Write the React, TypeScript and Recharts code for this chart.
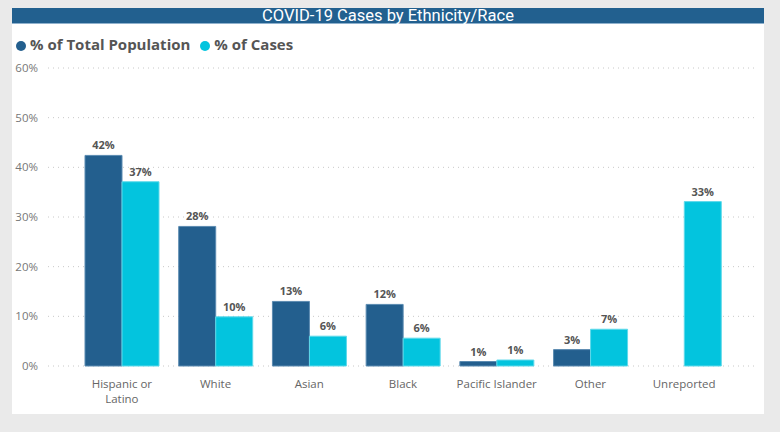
import React from 'react';
import { BarChart, Bar, XAxis, YAxis, CartesianGrid, Legend, LabelList, Text } from 'recharts';

const categories = ['Hispanic or Latino', 'White', 'Asian', 'Black', 'Pacific Islander', 'Other', 'Unreported'];
const populationPct = [42.4, 28.1, 13.0, 12.4, 0.9, 3.3, null];
const casesPct = [37.1, 9.9, 6.0, 5.6, 1.2, 7.4, 33.1];
const yTicks = [0, 10, 20, 30, 40, 50, 60];

const data = categories.map((name, i) => ({
  name,
  population: populationPct[i],
  cases: casesPct[i],
}));

const DARK = '#235f8e';
const LIGHT = '#03c4de';
const FONT = '"Open Sans", "Noto Sans", sans-serif';

function CategoryTick(props: any) {
  const { x, y, payload } = props;
  return (
    <Text
      x={x}
      y={y}
      width={86}
      dy={6}
      textAnchor="middle"
      verticalAnchor="start"
      lineHeight={15}
      style={{ fontSize: '11.5px', fontFamily: FONT }}
      fill="#666"
    >
      {payload.value}
    </Text>
  );
}

const pctLabel = (v: any) => (v === null || v === undefined ? '' : `${Math.round(v)}%`);

export default function App() {
  return (
    <div style={{ position: 'absolute', left: 0, top: 0, width: 780, height: 432, background: '#eaeaea', fontFamily: FONT }}>
      <div style={{ position: 'absolute', left: 12, top: 8, width: 752, height: 406, background: '#fff' }}>
        <div
          style={{
            height: 15,
            background: '#22608f',
            borderBottom: '1px solid #8fb1cd',
            color: '#fff',
            fontSize: 16.5,
            lineHeight: '16px',
            textAlign: 'center',
            fontFamily: 'Roboto, sans-serif',
          }}
        >
          COVID-19 Cases by Ethnicity/Race
        </div>
        <BarChart
          width={752}
          height={390}
          data={data}
          margin={{ top: 44, right: 7, bottom: 18, left: 0 }}
          barCategoryGap={10}
          barGap={0}
        >
          <CartesianGrid vertical={false} stroke="#c8c8c8" strokeDasharray="1 4" />
          <XAxis
            dataKey="name"
            height={30}
            axisLine={false}
            tickLine={false}
            padding={{ left: 27, right: 26 }}
            interval={0}
            tick={<CategoryTick />}
          />
          <YAxis
            width={36}
            domain={[0, 60]}
            ticks={yTicks}
            axisLine={false}
            tickLine={false}
            tickMargin={4}
            tickFormatter={(v) => `${v}%`}
            tick={{ fontSize: 11.5, fill: '#777', fontFamily: FONT }}
          />
          <Legend
            layout="horizontal"
            verticalAlign="middle"
            align="center"
            iconType="circle"
            iconSize={10}
            itemSorter={(item: any) => (item.dataKey === 'population' ? 0 : 1)}
            wrapperStyle={{ top: 10, left: 4, width: 'auto', fontSize: 15, fontWeight: 700 }}
            formatter={(value) => <span style={{ color: '#555' }}>{value}</span>}
          />
          <Bar dataKey="population" name="% of Total Population" fill={DARK} stroke="#5b8bb1" strokeWidth={1} isAnimationActive={false}>
            <LabelList dataKey="population" position="top" offset={6} formatter={pctLabel} fill="#555" fontSize={11} fontWeight={700} fontFamily={FONT} />
          </Bar>
          <Bar dataKey="cases" name="% of Cases" fill={LIGHT} stroke="#5fd9ea" strokeWidth={1} isAnimationActive={false}>
            <LabelList dataKey="cases" position="top" offset={6} formatter={pctLabel} fill="#555" fontSize={11} fontWeight={700} fontFamily={FONT} />
          </Bar>
        </BarChart>
      </div>
    </div>
  );
}
